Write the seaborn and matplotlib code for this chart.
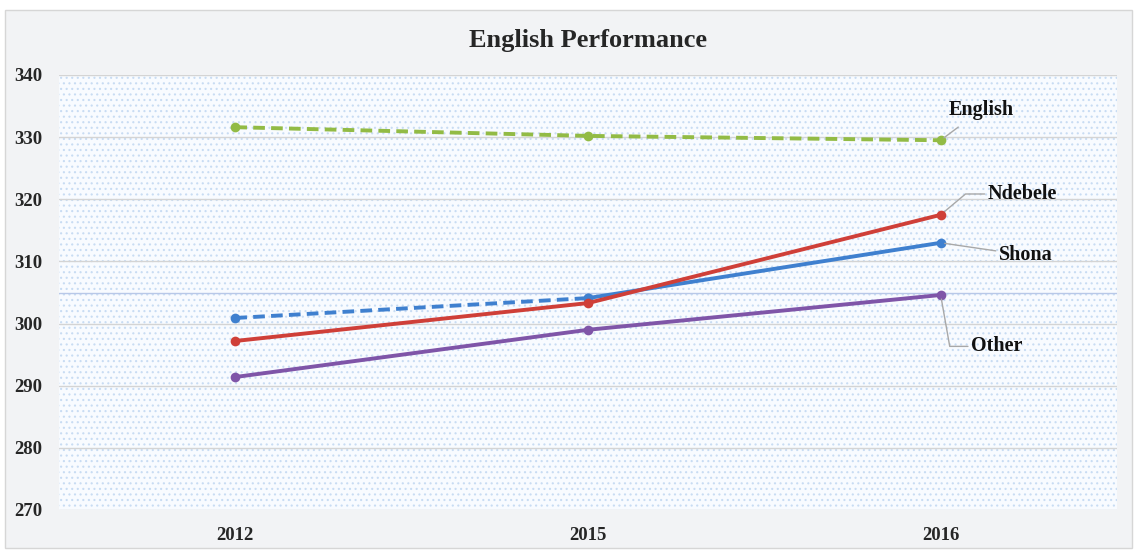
import numpy as np
import pandas as pd
import matplotlib
matplotlib.use("Agg")
import matplotlib.pyplot as plt
from matplotlib.patches import Rectangle
import seaborn as sns

years = ["2012", "2015", "2016"]
english = [331.6, 330.2, 329.5]
ndebele = [297.2, 303.3, 317.5]
shona = [300.9, 304.1, 313.0]
other = [291.4, 299.0, 304.6]

colors = {"English": "#92bb45", "Ndebele": "#cf3f38", "Shona": "#3f80cf", "Other": "#7f55a8"}

sns.set_theme(style="white")
plt.rcParams["font.family"] = ["Liberation Serif", "DejaVu Serif"]
plt.rcParams["hatch.linewidth"] = 0.8

fig = plt.figure(figsize=(11.35, 5.5), dpi=100)
fig.patch.set_facecolor("white")
fig.patches.append(Rectangle((5 / 1135, 2 / 550), 1127 / 1135, 538 / 550, transform=fig.transFigure,
                             facecolor="#f2f3f5", edgecolor="#d6d6d6", lw=1, zorder=-5))
ax = fig.add_axes([59 / 1135, 40 / 550, 1058 / 1135, 435 / 550])
ax.set_facecolor("#f8fbff")
ax.add_patch(Rectangle((0, 0), 1, 1, transform=ax.transAxes, facecolor="none",
                       edgecolor="#c8dcf3", hatch="...", lw=0, zorder=0))

x = np.arange(len(years))
df = pd.DataFrame({"x": x, "English": english, "Ndebele": ndebele, "Shona": shona, "Other": other})

lw = 2.8
ms = 7
sns.lineplot(data=df, x="x", y="English", color=colors["English"], lw=lw, ls=(0, (3, 1.6)),
             marker="o", markersize=ms, markeredgewidth=0, ax=ax, zorder=3)
sns.lineplot(data=df, x="x", y="Other", color=colors["Other"], lw=lw,
             marker="o", markersize=ms, markeredgewidth=0, ax=ax, zorder=3)
sns.lineplot(data=df.iloc[:2], x="x", y="Shona", color=colors["Shona"], lw=lw, ls=(0, (3, 1.6)),
             marker="o", markersize=ms, markeredgewidth=0, ax=ax, zorder=3)
sns.lineplot(data=df.iloc[1:], x="x", y="Shona", color=colors["Shona"], lw=lw,
             marker="o", markersize=ms, markeredgewidth=0, ax=ax, zorder=3)
sns.lineplot(data=df, x="x", y="Ndebele", color=colors["Ndebele"], lw=lw,
             marker="o", markersize=ms, markeredgewidth=0, ax=ax, zorder=4)

ax.set_xlim(-0.5, 2.5)
ax.set_ylim(270, 340)
ax.set_yticks(range(270, 341, 10))
ax.set_xticks(x)
ax.set_xticklabels(years)
ax.set_xlabel("")
ax.set_ylabel("")
for t in ax.get_xticklabels() + ax.get_yticklabels():
    t.set_fontweight("bold")
    t.set_fontsize(13.5)
ax.tick_params(axis="x", length=0, pad=12)
ax.tick_params(axis="y", length=0, pad=12)

for v in range(270, 341, 10):
    ax.axhline(v, color="#d4d4d4", lw=1, zorder=1)
ax.axhline(305, color="#b8c8e8", lw=1, zorder=1)
for s in ax.spines.values():
    s.set_visible(False)

ax.set_title("English Performance", fontsize=19, fontweight="bold", pad=20)

lab = dict(fontsize=14.5, fontweight="bold", color="#111111", va="center")
arrow = dict(arrowstyle="-", color="#a8a8a8", lw=1, shrinkA=0, shrinkB=3)
ax.annotate("English", (2, english[2]), xytext=(6, 22), textcoords="offset points",
            ha="left", arrowprops=dict(arrow, shrinkA=5), **lab)
ax.annotate("Ndebele", (2, ndebele[2]), xytext=(34, 15), textcoords="offset points",
            ha="left", arrowprops=dict(arrow, connectionstyle="angle,angleA=0,angleB=40,rad=0"), **lab)
ax.annotate("Shona", (2, shona[2]), xytext=(42, -9), textcoords="offset points",
            ha="left", arrowprops=arrow, **lab)
ax.annotate("Other", (2, other[2]), xytext=(22, -37), textcoords="offset points",
            ha="left", arrowprops=dict(arrow, connectionstyle="angle,angleA=0,angleB=-80,rad=0"), **lab)

fig.savefig("out.png", dpi=100)
